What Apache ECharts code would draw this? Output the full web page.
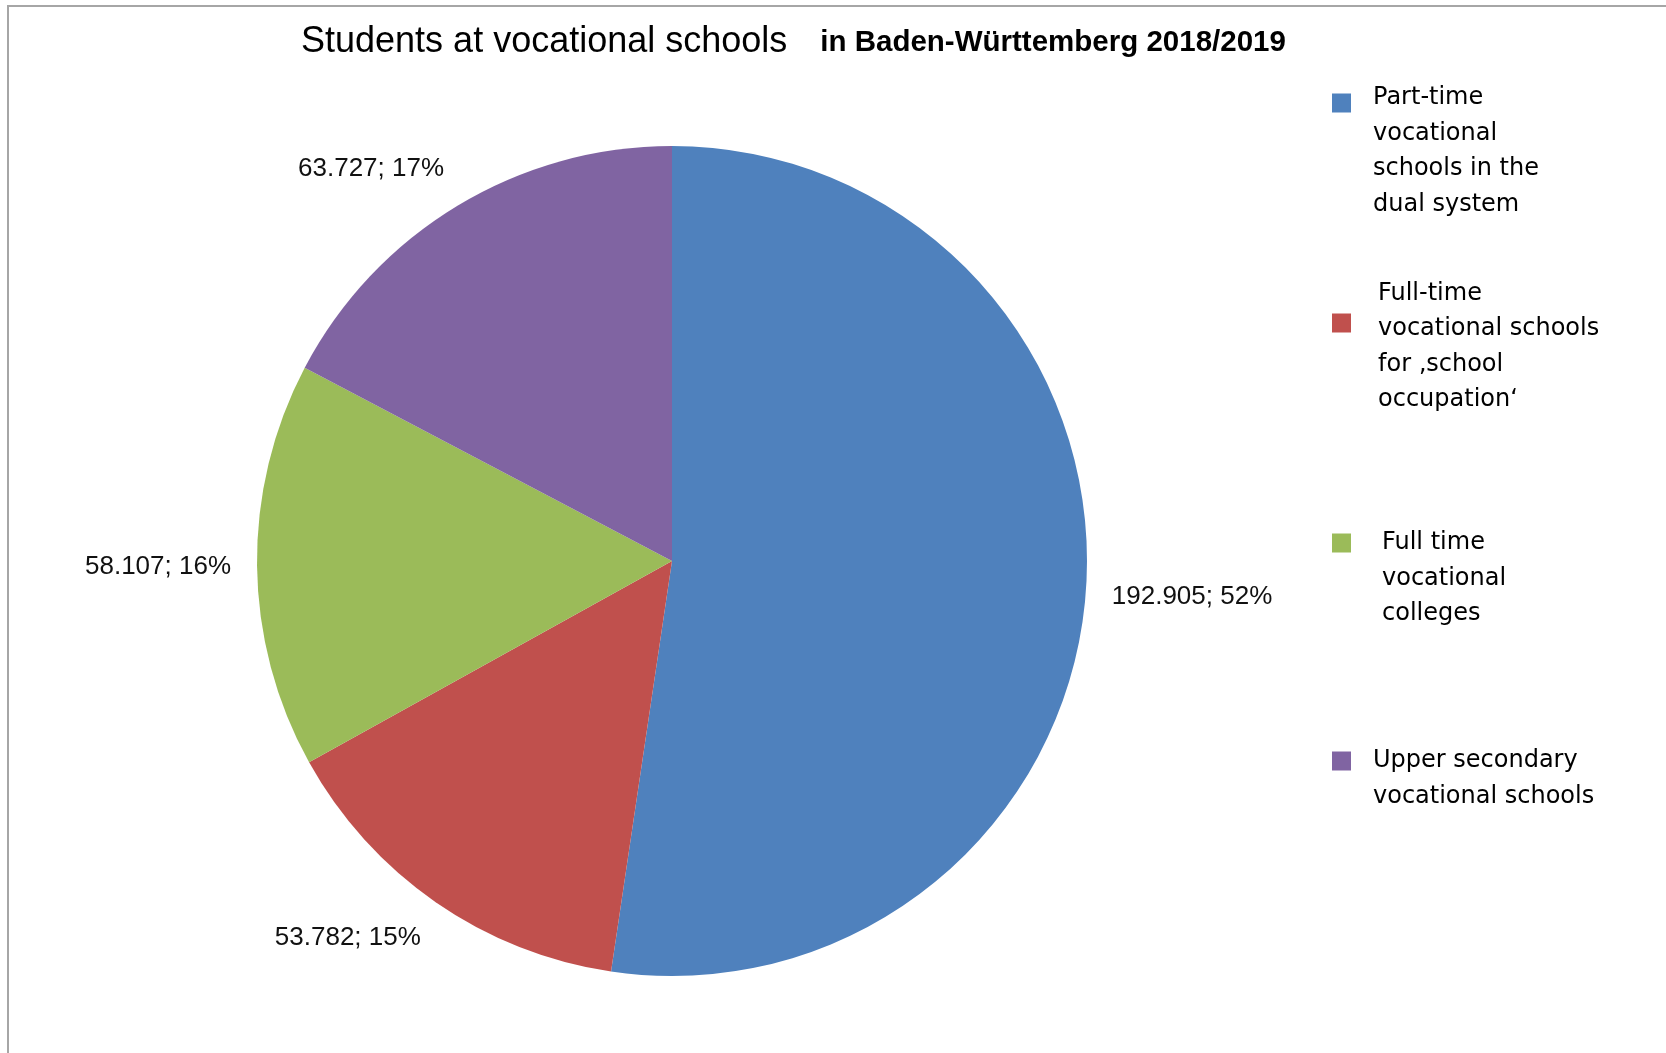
<!DOCTYPE html>
<html>
<head>
<meta charset="utf-8">
<title>Students at vocational schools</title>
<script src="https://cdn.jsdelivr.net/npm/echarts@6/dist/echarts.min.js"></script>
<style>
  html, body { margin: 0; padding: 0; background: #fff; }
  #chart { width: 1666px; height: 1053px; }
</style>
</head>
<body>
<div id="chart"></div>
<script>
// data
const categories = [
  'Part-time vocational schools in the dual system',
  'Full-time vocational schools for \u201Aschool occupation\u2018',
  'Full time vocational colleges',
  'Upper secondary vocational schools'
]
const legendLines = [
  ['Part-time', 'vocational', 'schools in the', 'dual system'],
  ['Full-time', 'vocational schools', 'for \u201Aschool', 'occupation\u2018'],
  ['Full time', 'vocational', 'colleges'],
  ['Upper secondary', 'vocational schools']
]
const students = [192905, 53782, 58107, 63727]
const colors = ['#4F81BD', '#C0504D', '#9BBB59', '#8064A2']

// layout
const CX = 672, CY = 561, R = 415
const LH = 35.5
// square centre y, which text line sits near it (and how far off), text offset
const legendSpot = [
  { y: 103, line: 0, off: -5, gap: 17 },
  { y: 323, line: 1, off: 6, gap: 22 },
  { y: 543, line: 0, off: 0, gap: 26 },
  { y: 761, line: 0, off: 0, gap: 17 }
]

const total = students.reduce((a, b) => a + b, 0)
const fmtNum = v => String(v).replace(/\B(?=(\d{3})+(?!\d))/g, '.')

const legends = categories.map((name, i) => {
  const lines = legendLines[i]
  const n = lines.length
  const spot = legendSpot[i]
  // a spacer line on top so the square sits where it does in the picture
  const hb = 2 * (spot.off - (spot.line + 0.5) * LH + n * LH / 2)
  const block = hb + n * LH
  return {
    data: [name],
    orient: 'vertical',
    left: 1332,
    top: spot.y - block / 2,
    padding: 0,
    icon: 'rect',
    itemWidth: 19,
    itemHeight: 19,
    selectedMode: false,
    formatter: () => '{s|\u00a0}\n' + lines.join('\n'),
    textStyle: {
      fontFamily: 'DejaVu Sans',
      fontSize: 24,
      lineHeight: LH,
      color: '#000',
      padding: [0, 0, 0, spot.gap],
      rich: { s: { lineHeight: hb, height: hb, fontSize: 2 } }
    }
  }
})

const chart = echarts.init(document.getElementById('chart'))
chart.setOption({
  animation: false,
  backgroundColor: '#fff',
  color: colors,
  title: {
    left: 296,
    top: 11,
    text: '{a|Students at vocational schools}{b|in Baden-W\u00fcrttemberg 2018/2019}',
    textStyle: {
      rich: {
        a: { fontFamily: 'Liberation Sans', fontWeight: 'normal', fontSize: 36, color: '#000', lineHeight: 44, verticalAlign: 'bottom' },
        b: { fontFamily: 'Liberation Sans', fontWeight: 'bold', fontSize: 29.5, color: '#000', lineHeight: 44, verticalAlign: 'bottom', padding: [0, 0, 2, 33] }
      }
    }
  },
  legend: legends,
  graphic: [{
    type: 'rect',
    shape: { x: 8, y: 6, width: 1700, height: 1100 },
    style: { fill: 'none', stroke: '#a6a6a6', lineWidth: 2 },
    silent: true
  }],
  series: [{
    type: 'pie',
    center: [CX, CY],
    radius: R,
    startAngle: 90,
    clockwise: true,
    data: categories.map((name, i) => ({ name, value: students[i] })),
    label: {
      show: true,
      position: 'outside',
      fontFamily: 'Liberation Sans',
      fontSize: 26,
      color: '#111',
      formatter: p => fmtNum(p.value) + '; ' + Math.round(p.percent) + '%'
    },
    labelLine: { show: false },
    labelLayout: function (params) {
      // put the label just outside the slice edge, like the spreadsheet did
      let before = 0
      for (let k = 0; k < params.dataIndex; k++) before += students[k]
      const mid = (before + students[params.dataIndex] / 2) / total * Math.PI * 2
      const dx = Math.sin(mid), dy = -Math.cos(mid)
      const ax = CX + (R + 26) * dx
      const ay = CY + (R + 28) * dy
      const clamp = t => Math.max(-1, Math.min(1, t))
      const w = params.labelRect.width, h = params.labelRect.height
      return {
        x: ax + clamp(dx * 3) * w / 2,
        y: ay + clamp(dy * 3) * h / 2,
        align: 'center',
        verticalAlign: 'middle'
      }
    },
    emphasis: { scale: false }
  }]
})
</script>
</body>
</html>
